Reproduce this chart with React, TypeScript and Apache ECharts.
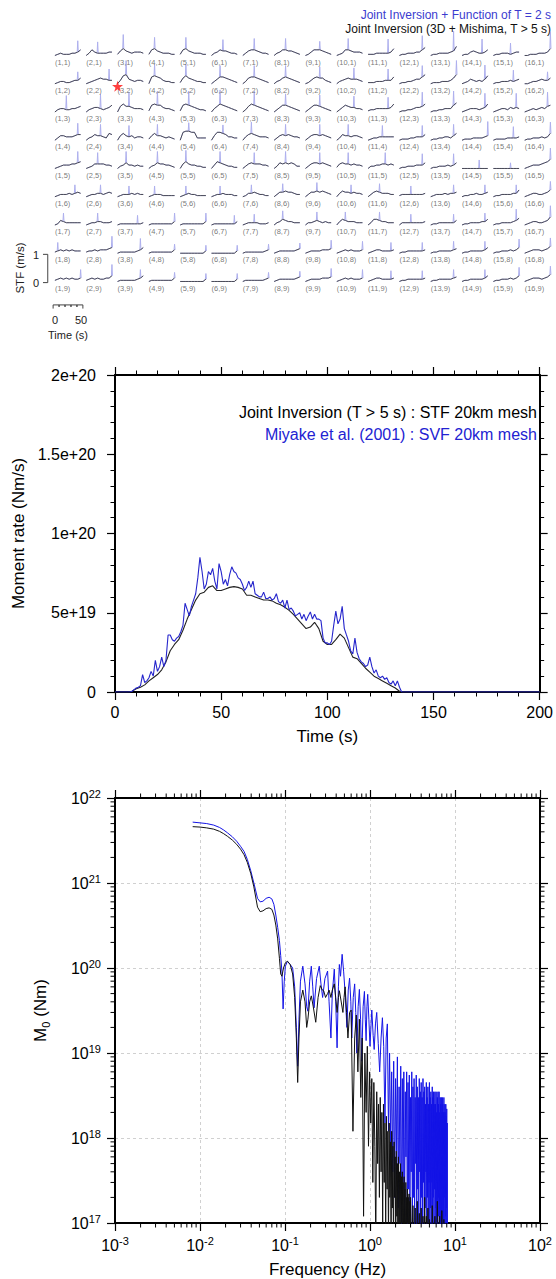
import { useEffect, useRef } from "react";
import * as echarts from "echarts";

const FONT = "'Liberation Sans', Arial, Helvetica, sans-serif";

// ================= Panel 1: subfault source time functions (16 x 9) =================
const COLUMN_COUNT = 16;
const ROW_COUNT = 9;
// black STF shapes, one 10-sample string per subfault (digit = 0.04 m/s)
const stfShapeRows: string[] = [
  "1232223346 1364333344 2575434443 2675433322 2675433322 1346554332 1356654332 1346655432 1246665432 1236654443 2223333347 1223334468 1223333459 1224543346 1223332344 1122233347",
  "1233223446 1234565544 1489543443 1787643322 2686543322 1357765432 1367765432 1346765432 1246766432 1345655543 2223334447 1223345579 1222333469 1235434358 1223334345 1123345446",
  "1344334456 1345543457 1686654443 2787754432 2787654332 1468765432 1368765432 1357765432 1357765432 1357655443 2334444458 1223345568 1223344479 1234443458 1234435454 1234345467",
  "1355444566 1346554376 1575453443 2575543432 1899883333 1588764433 1467654443 1356565443 1356656543 1365545543 1233444444 1222334446 1223344357 1222333345 1222233334 1223334347",
  "1234445567 1235555443 1346443433 1346554432 1575443322 1476543322 1356555443 1365656533 1356656543 2565545443 1334455454 1223334446 1223334346 1111111111 1111111111 1234445679",
  "1233343454 1233443454 1233343433 1233322222 1234332222 1233433322 1244543322 1355655433 1355656543 1465545443 1356544433 2333333334 1233343445 1223343345 1223333447 1234433457",
  "1254333333 1233443334 1222222223 1222222224 1222222224 1222222224 1233332223 1346544333 1334543433 1465444333 1366544333 1333333334 1223333335 1223333446 1223333457 1234433458",
  "2343434333 2334344456 1222222346 1222222224 1111111113 1111111113 1222222234 1233333345 1233334445 1234343334 1234433334 1223333334 1223333345 1223333346 1223334346 1234443457",
  "2343434334 2343433446 1222222346 1222222224 1111111113 1111111113 1222222234 1233333345 1233334445 1234343334 1234433334 1223333334 1223333345 1223333346 1223334346 1234443457",
];
// blue (T = 2 s) spike: sample index and height (digit = 0.1 m/s)
const svfSpikePosRows: string[] = [
  "8422244454788769",
  "8832234456789878",
  "4543334456788888",
  "8543343454588979",
  "8433234454688669",
  "7542233345448889",
  "3479984343448889",
  "1989999999888899",
  "9989999999888899",
];
const svfSpikeAmpRows: string[] = [
  "4454444434557546",
  "3454444444445543",
  "5555555444455555",
  "4444334444444544",
  "4444444444444324",
  "3333333333333333",
  "3333333333333344",
  "3442222233333333",
  "3432222233333333",
];
const hypocenterCell = [3, 2];

// ================= Panel 2: moment rate functions =================
const stfStartTime = 0;
const stfStep = 2; // s
// Joint inversion STF (x 1e19 Nm/s)
const stfMomentRate = [
  0, 0, 0, 0, 0.05, 0.2, 0.3, 0.45, 0.7, 0.9,
  1.1, 1.4, 1.9, 2.6, 3.0, 3.3, 3.9, 4.6, 5.2, 5.8,
  6.2, 6.3, 6.6, 6.7, 6.4, 6.4, 6.5, 6.6, 6.65, 6.6,
  6.5, 6.1, 6.1, 6.0, 5.9, 5.8, 5.8, 5.75, 5.6, 5.5,
  5.35, 5.15, 4.9, 4.6, 4.3, 4.0, 4.1, 4.4, 4.0, 3.2,
  3.0, 3.0, 3.3, 3.65, 3.4, 2.8, 2.2, 2.1, 1.8, 1.5,
  1.25, 1.0, 0.85, 0.7, 0.55, 0.4, 0.25, 0.05, 0,
];
const svfStartTime = 0;
const svfStep = 1; // s
// Miyake et al. (2001) SVF (x 1e19 Nm/s)
const svfMomentRate = [
  0, 0, 0, 0, 0, 0, 0, 0, 0.05, 0.15,
  0.25, 0.3, 0.4, 1.1, 0.6, 0.7, 0.9, 1.3, 1.0, 2.0,
  1.3, 1.6, 2.2, 1.6, 2.0, 3.6, 3.6, 3.3, 3.2, 3.4,
  3.5, 3.8, 4.2, 5.6, 5.2, 4.8, 5.4, 5.8, 6.2, 7.2,
  8.5, 7.6, 6.5, 6.8, 7.6, 7.4, 7.8, 7.0, 6.5, 8.1,
  7.6, 6.8, 7.1, 6.7, 7.4, 7.9, 7.6, 7.5, 7.2, 7.1,
  6.8, 6.4, 6.6, 7.0, 6.6, 7.0, 6.2, 6.1, 6.0, 6.0,
  6.3, 5.9, 5.9, 6.0, 5.8, 5.9, 6.2, 5.7, 5.6, 5.8,
  5.3, 5.8, 5.2, 5.3, 5.1, 4.8, 4.9, 5.0, 4.6, 4.9,
  4.5, 4.8, 5.05, 4.6, 4.9, 4.6, 4.6, 4.5, 3.4, 3.1,
  3.1, 3.0, 3.2, 4.2, 5.1, 4.3, 4.6, 5.4, 4.0, 3.6,
  3.2, 2.6, 2.4, 3.4, 2.5, 2.1, 1.9, 1.8, 1.6, 1.7,
  2.2, 1.6, 1.2, 1.4, 1.0, 0.9, 1.0, 0.8, 0.9, 0.6,
  0.5, 0.7, 0.4, 0.7, 0.3, 0, 0,
];
const recordEnd = 200; // s, both functions are zero after rupture end
const momentRateTicks = ["0", "5e+19", "1e+20", "1.5e+20", "2e+20"];

// ================= Panel 3: moment spectra [frequency Hz, M0 Nm] =================
const spectrumSvf: [number, number][] = [
  [0.0082, 5.2e21], [0.01, 5.1e21], [0.012, 5.0e21], [0.0145, 4.8e21], [0.017, 4.5e21], [0.019, 4.2e21],
  [0.021, 3.9e21], [0.024, 3.5e21], [0.027, 3.1e21], [0.03, 2.7e21], [0.033, 2.35e21], [0.036, 1.9e21],
  [0.0395, 1.4e21], [0.043, 1.0e21], [0.0475, 6.6e20], [0.051, 6.0e20], [0.055, 6.1e20], [0.06, 6.6e20],
  [0.065, 6.8e20], [0.07, 6.5e20], [0.074, 5.6e20], [0.078, 4.2e20], [0.082, 3.0e20], [0.086, 2.1e20],
  [0.089, 1.4e20], [0.092, 9.0e19], [0.095, 3.3e19], [0.098, 7.0e19], [0.101, 1.05e20], [0.107, 1.2e20],
  [0.115, 1.1e20], [0.123, 1.0e20], [0.13, 6.0e19], [0.136, 2.0e19], [0.141, 7.0e18], [0.146, 2.5e19],
  [0.152, 7.0e19], [0.162, 1.05e20], [0.172, 6.5e19], [0.18, 3.5e19], [0.186, 3.1e19], [0.195, 7.0e19],
  [0.204, 1.05e20], [0.212, 6.0e19], [0.22, 3.4e19], [0.235, 7.5e19], [0.253, 1.05e20], [0.265, 6.5e19],
  [0.277, 4.5e19], [0.295, 7.5e19], [0.317, 9.2e19], [0.33, 4.0e19], [0.347, 1.5e19], [0.36, 5.0e19],
  [0.38, 9.7e19], [0.395, 4.0e19], [0.41, 1.15e19], [0.425, 6.0e19], [0.436, 1.1e20], [0.45, 8.0e19],
  [0.47, 1.45e20], [0.49, 9.0e19], [0.51, 5.0e19], [0.535, 2.0e19], [0.555, 5.5e19], [0.575, 7.6e19],
  [0.595, 4.0e19], [0.61, 1.5e19], [0.635, 4.5e19], [0.66, 6.5e19], [0.68, 3.0e19], [0.7, 1.0e19],
  [0.725, 3.5e19], [0.75, 5.6e19], [0.775, 2.5e19], [0.8, 8.0e18], [0.83, 3.5e19], [0.86, 5.3e19],
  [0.88, 2.5e19], [0.9, 1.4e19], [0.92, 3.5e19], [0.94, 4.9e19], [0.97, 2.5e19], [1.0, 1.2e19],
  [1.03, 2.2e19], [1.05, 3.2e19], [1.09, 1.6e19], [1.12, 1.1e19], [1.16, 2.2e19], [1.2, 3.0e19],
  [1.25, 1.3e19], [1.3, 6.0e18], [1.35, 1.5e19], [1.4, 2.6e19], [1.45, 1.2e19], [1.5, 1.5e18],
  [1.55, 1.5e19], [1.6, 2.2e19], [1.65, 1.2e18],
  [1.7, 1.0e19], [1.75, 9e17], [1.8, 6e18], [1.85, 4e17], [1.9, 8e18], [1.95, 2e17], [2.0, 5e18], [2.05, 7e17],
  [2.1, 9e18], [2.15, 1.5e17], [2.2, 4e18], [2.25, 5e17], [2.3, 7e18], [2.35, 8e16], [2.4, 5e18], [2.45, 3e17],
  [2.5, 6e18], [2.55, 1e17], [2.6, 3.5e18], [2.65, 6e17], [2.7, 6e18], [2.75, 5e16], [2.8, 4.5e18], [2.85, 2.5e17],
  [2.9, 5.5e18], [2.95, 1.2e17], [3.0, 3e18], [3.05, 4e17], [3.1, 6e18], [3.15, 6e16], [3.2, 4e18], [3.25, 2e17],
  [3.3, 5e18], [3.35, 9e16], [3.4, 3e18], [3.45, 5e17], [3.5, 5.5e18], [3.55, 7e16], [3.6, 4e18], [3.65, 2.5e17],
  [3.7, 3e18], [3.75, 1e17], [3.8, 5e18], [3.85, 4e17], [3.9, 3.5e18], [3.95, 5e16], [4.0, 4.5e18], [4.05, 2e17],
  [4.1, 3e18], [4.15, 8e16], [4.2, 5e18], [4.25, 3e17], [4.3, 3.5e18], [4.35, 4e16], [4.4, 4e18], [4.45, 1.5e17],
  [4.5, 2.5e18], [4.55, 4e17], [4.6, 4.5e18], [4.65, 6e16], [4.7, 3e18], [4.75, 2e17], [4.8, 4e18], [4.85, 1e17],
  [4.9, 2.5e18], [4.95, 3e17], [5.0, 4.5e18], [5.05, 5e16], [5.1, 3e18], [5.15, 1.5e17], [5.2, 3.5e18], [5.25, 8e16],
  [5.3, 2.5e18], [5.35, 3e17], [5.4, 4e18], [5.45, 4e16], [5.5, 3e18], [5.55, 2e17], [5.6, 3.5e18], [5.65, 1e17],
  [5.7, 2.5e18], [5.75, 2.5e17], [5.8, 3.5e18], [5.85, 5e16], [5.9, 2.5e18], [5.95, 1.5e17], [6.0, 3.5e18], [6.05, 7e16],
  [6.1, 2e18], [6.15, 3e17], [6.2, 3e18], [6.25, 4e16], [6.3, 3.5e18], [6.35, 1.2e17], [6.4, 2.5e18], [6.45, 2e17],
  [6.5, 3.5e18], [6.55, 5e16], [6.6, 2e18], [6.65, 1.5e17], [6.7, 3e18], [6.75, 8e16], [6.8, 2.5e18], [6.85, 2.5e17],
  [6.9, 3e18], [6.95, 4e16], [7.0, 2e18], [7.05, 1.2e17], [7.1, 3e18], [7.15, 6e16], [7.2, 2.5e18], [7.25, 2e17],
  [7.3, 2e18], [7.35, 5e16], [7.4, 3e18], [7.45, 1e17], [7.5, 2e18], [7.55, 2e17], [7.6, 2.5e18], [7.65, 4e16],
  [7.7, 2e18], [7.75, 1.2e17], [7.8, 2.5e18], [7.85, 6e16], [7.9, 1.8e18], [7.95, 1.5e17], [8.0, 2.2e18], [8.05, 4e16],
  [8.1, 1.5e18], [8.15, 1e16],
];
const spectrumStf: [number, number][] = [
  [0.0082, 4.6e21], [0.01, 4.55e21], [0.012, 4.45e21], [0.0145, 4.3e21], [0.017, 4.05e21], [0.019, 3.8e21],
  [0.021, 3.55e21], [0.024, 3.2e21], [0.027, 2.85e21], [0.03, 2.5e21], [0.033, 2.15e21], [0.036, 1.75e21],
  [0.0395, 1.3e21], [0.043, 9.0e20], [0.0475, 5.2e20], [0.051, 4.6e20], [0.055, 4.7e20], [0.06, 5.0e20],
  [0.065, 5.1e20], [0.07, 4.9e20], [0.074, 4.2e20], [0.078, 3.2e20], [0.082, 2.2e20], [0.086, 1.3e20],
  [0.089, 8.5e19], [0.092, 8.0e19], [0.096, 1.0e20], [0.101, 1.15e20], [0.107, 1.2e20], [0.115, 1.1e20],
  [0.123, 8.5e19], [0.13, 4.5e19], [0.136, 1.5e19], [0.141, 4.5e18], [0.146, 1.5e19], [0.152, 4.0e19],
  [0.162, 5.5e19], [0.172, 4.0e19], [0.18, 2.0e19], [0.186, 2.5e19], [0.195, 4.0e19], [0.204, 4.7e19],
  [0.215, 3.5e19], [0.23, 2.3e19], [0.245, 4.5e19], [0.26, 6.2e19], [0.275, 5.5e19], [0.285, 5.4e19],
  [0.3, 4.5e19], [0.317, 5.0e19], [0.33, 5.5e19], [0.347, 4.5e19], [0.36, 5.5e19], [0.38, 6.5e19],
  [0.395, 4.5e19], [0.41, 3.0e19], [0.425, 4.5e19], [0.436, 5.4e19], [0.455, 4.2e19], [0.48, 3.0e19],
  [0.495, 4.5e19], [0.51, 6.0e19], [0.53, 3.0e19], [0.55, 1.5e19], [0.575, 3.0e19],
  [0.6, 3.2e19], [0.63, 1.2e18], [0.66, 1.5e19], [0.69, 2.8e19], [0.72, 6e18], [0.75, 2.5e19], [0.78, 3e18], [0.81, 1.5e19],
  [0.84, 1.2e17], [0.87, 1.0e19], [0.9, 2.0e18], [0.93, 1.2e19], [0.96, 8e17], [0.99, 6e18], [1.02, 1.5e18], [1.05, 5e18],
  [1.08, 3e17], [1.11, 4.5e18], [1.14, 8e17], [1.17, 6e16], [1.2, 3.5e18], [1.23, 5e17], [1.26, 2.5e18], [1.29, 2e17],
  [1.32, 3e18], [1.35, 4e17], [1.38, 2e18], [1.41, 1e17], [1.44, 2.5e18], [1.47, 3e17], [1.5, 1.5e18], [1.53, 8e16],
  [1.56, 1.8e18], [1.59, 2.5e17], [1.62, 1.2e18], [1.65, 6e16], [1.68, 1.5e18], [1.71, 2e17], [1.74, 9e17], [1.77, 5e16],
  [1.8, 1.2e18], [1.83, 1.5e17], [1.86, 8e17], [1.89, 4e16], [1.92, 9e17], [1.95, 2e17], [1.98, 6e17], [2.01, 5e16],
  [2.04, 7e17], [2.07, 1.2e17], [2.1, 5e17], [2.13, 3e16], [2.16, 6e17], [2.19, 1e17], [2.22, 4e17], [2.25, 4e16],
  [2.28, 5e17], [2.31, 8e16], [2.34, 3.5e17], [2.37, 3e16], [2.4, 4e17], [2.43, 1e17], [2.46, 3e17], [2.49, 4e16],
  [2.52, 3.5e17], [2.55, 7e16], [2.58, 2.5e17], [2.61, 3e16], [2.64, 3e17], [2.67, 8e16], [2.7, 2e17], [2.73, 3e16],
  [2.76, 2.5e17], [2.79, 6e16], [2.82, 2e17], [2.85, 2e16], [2.88, 2.2e17], [2.91, 5e16], [2.94, 1.8e17], [2.97, 2e16],
  [3.0, 2e17], [3.1, 4e16], [3.2, 1.6e17], [3.3, 3e16], [3.4, 1.5e17], [3.5, 2e16], [3.6, 1.8e17], [3.7, 3e16],
  [3.8, 1.3e17], [3.9, 2e16], [4.0, 1.5e17], [4.1, 3e16], [4.2, 1.2e17], [4.3, 2e16], [4.4, 2e17], [4.5, 3e16],
  [4.6, 1.2e17], [4.7, 2e16], [4.8, 1.5e17], [4.9, 3e16], [5.0, 1.1e17], [5.2, 2e16], [5.4, 1.6e17], [5.6, 3e16],
  [5.8, 1.2e17], [6.0, 2e16], [6.2, 1.8e17], [6.4, 3e16], [6.6, 1.2e17], [6.8, 2e16], [7.0, 1.4e17], [7.2, 3e16],
  [7.4, 1.1e17], [7.6, 2e16], [7.8, 1.0e17], [8.0, 2e16], [8.1, 1e16],
];

// ================= layout / style constants =================
const COL_STEP = 52.6; // s between subfault columns
const SAMPLE_DT = 4.8; // s between STF samples
const STF_UNIT = 0.04; // m/s per digit
const SVF_UNIT = 0.1; // m/s per digit
const PX_PER_S = 0.6;
const PX_PER_MS = 28.25;
const X0_MIN = -22;
const X0_MAX = COLUMN_COUNT * COL_STEP;
const Y0_MIN = -1.2;
const Y0_MAX = 9;
const ROW9_BASE_PX = 282.6;
const FIRST_COL_PX = 55;

const SPEC_XMIN = 1e-3, SPEC_XMAX = 1e2, SPEC_YMIN = 1e17, SPEC_YMAX = 1e22;
const BLUE = "#2626cc";

function buildOption() {
  const series: any[] = [];

  // ----- panel 1 -----
  const labelData: any[] = [];
  for (let r = 0; r < ROW_COUNT; r++) {
    const shapes = stfShapeRows[r].split(" ");
    const base = ROW_COUNT - 1 - r;
    for (let c = 0; c < COLUMN_COUNT; c++) {
      const x0 = c * COL_STEP;
      const samples = shapes[c].split("").map(Number);
      const black = samples.map((d, k) => [x0 + k * SAMPLE_DT, base + d * STF_UNIT]);
      const p = Number(svfSpikePosRows[r][c]);
      const amp = Number(svfSpikeAmpRows[r][c]) * SVF_UNIT;
      const blue: number[][] = [];
      samples.forEach((d, k) => {
        const t = x0 + k * SAMPLE_DT;
        const y = base + d * STF_UNIT;
        if (k === p) {
          blue.push([t - 0.9, y], [t, y + amp], [t + 0.9, y]);
        } else blue.push([t, y]);
      });
      series.push({
        type: "line", xAxisIndex: 0, yAxisIndex: 0, data: blue, symbol: "none", silent: true, z: 2,
        lineStyle: { color: "#aeb0ee", width: 1 },
      });
      series.push({
        type: "line", xAxisIndex: 0, yAxisIndex: 0, data: black, symbol: "none", silent: true, z: 3,
        lineStyle: { color: "#2e2e2e", width: 0.8 },
      });
      labelData.push({ value: [x0, base], name: `(${c + 1},${r + 1})` });
    }
  }
  series.push({
    type: "scatter", xAxisIndex: 0, yAxisIndex: 0, data: labelData, symbolSize: 0, silent: true, z: 4,
    label: {
      show: true, formatter: "{b}", position: "bottom", distance: 1.5, align: "left",
      fontSize: 7.5, color: "#555", fontFamily: FONT,
    },
  });
  series.push({
    type: "scatter", xAxisIndex: 0, yAxisIndex: 0, silent: true, z: 6,
    data: [[(hypocenterCell[0] - 1) * COL_STEP, ROW_COUNT - hypocenterCell[1] - 0.05]],
    symbol: "path://M50,0 L61,35 L98,35 L68,57 L79,91 L50,70 L21,91 L32,57 L2,35 L39,35 Z",
    symbolSize: 11, itemStyle: { color: "#ff1010" },
  });
  // amplitude scale bar (1 m/s) and time scale bar (50 s)
  series.push({
    type: "line", xAxisIndex: 0, yAxisIndex: 0, symbol: "none", silent: true,
    data: [[-20, 1], [-12, 1], [-12, 0], [-20, 0]],
    lineStyle: { color: "#444", width: 1 },
  });
  const ruler: number[][] = [[-3, -0.92], [-3, -0.79]];
  [7, 17, 27, 37].forEach((t) => ruler.push([t, -0.79], [t, -0.86], [t, -0.79]));
  ruler.push([47, -0.79], [47, -0.92]);
  series.push({
    type: "line", xAxisIndex: 0, yAxisIndex: 0, symbol: "none", silent: true, data: ruler,
    lineStyle: { color: "#444", width: 1 },
  });

  // ----- panel 2 -----
  const stfData = stfMomentRate.map((v, i) => [stfStartTime + i * stfStep, v * 1e19]);
  stfData.push([recordEnd, 0]);
  const svfData = svfMomentRate.map((v, i) => [svfStartTime + i * svfStep, v * 1e19]);
  svfData.push([recordEnd, 0]);
  series.push({
    type: "line", xAxisIndex: 1, yAxisIndex: 1, data: stfData, symbol: "none", silent: true, z: 3,
    lineStyle: { color: "#222", width: 1.1 },
  });
  series.push({
    type: "line", xAxisIndex: 1, yAxisIndex: 1, data: svfData, symbol: "none", silent: true, z: 4,
    lineStyle: { color: BLUE, width: 1.1 },
  });

  // ----- panel 3 -----
  series.push({
    type: "line", xAxisIndex: 3, yAxisIndex: 3, data: spectrumSvf, symbol: "none", silent: true, z: 3,
    lineStyle: { color: "#1414e6", width: 1 },
  });
  series.push({
    type: "line", xAxisIndex: 3, yAxisIndex: 3, data: spectrumStf, symbol: "none", silent: true, z: 4,
    lineStyle: { color: "#111", width: 1 },
  });
  const minorX: number[] = [];
  for (let d = -3; d <= 1; d++) for (let m = 2; m <= 9; m++) minorX.push(m * Math.pow(10, d));
  const minorY: number[] = [];
  for (let d = 17; d <= 21; d++) for (let m = 2; m <= 9; m++) minorY.push(m * Math.pow(10, d));
  const tickStyle = { stroke: "#000", lineWidth: 1 };
  series.push({
    type: "custom", xAxisIndex: 3, yAxisIndex: 3, silent: true, z: 6,
    data: minorX.map((v) => [v, SPEC_YMIN]),
    renderItem: (_p: any, api: any) => {
      const v = api.value(0);
      const b = api.coord([v, SPEC_YMIN]);
      const t = api.coord([v, SPEC_YMAX]);
      return {
        type: "group",
        children: [
          { type: "line", shape: { x1: b[0], y1: b[1], x2: b[0], y2: b[1] + 4.5 }, style: tickStyle },
          { type: "line", shape: { x1: t[0], y1: t[1], x2: t[0], y2: t[1] - 4.5 }, style: tickStyle },
        ],
      };
    },
  });
  series.push({
    type: "custom", xAxisIndex: 3, yAxisIndex: 3, silent: true, z: 6,
    data: minorY.map((v) => [SPEC_XMIN, v]),
    renderItem: (_p: any, api: any) => {
      const v = api.value(1);
      const l = api.coord([SPEC_XMIN, v]);
      const r = api.coord([SPEC_XMAX, v]);
      return {
        type: "group",
        children: [
          { type: "line", shape: { x1: l[0], y1: l[1], x2: l[0] - 4.5, y2: l[1] }, style: tickStyle },
          { type: "line", shape: { x1: r[0], y1: r[1], x2: r[0] + 4.5, y2: r[1] }, style: tickStyle },
        ],
      };
    },
  });

  const frameLine = { show: true, onZero: false, lineStyle: { color: "#000", width: 2 } };
  const majorTick = { show: true, length: 8, lineStyle: { color: "#000", width: 1.2 } };
  const linMinor = { show: true, splitNumber: 5, length: 4.5, lineStyle: { color: "#000", width: 1 } };
  const pow10 = (v: number) => `{b|10}{s|${Math.round(Math.log10(v))}}`;
  const powRich = {
    b: { fontSize: 16, lineHeight: 20, fontFamily: FONT, color: "#000" },
    s: { fontSize: 11, lineHeight: 11, verticalAlign: "top", fontFamily: FONT, color: "#000" },
  };
  const gridDash = { show: true, lineStyle: { color: "#c4c4c4", width: 0.8, type: [3, 3] } };
  const labelFont = { fontSize: 16, color: "#000", fontFamily: FONT };
  const nameFont = { fontSize: 17, color: "#000", fontFamily: FONT };

  const xAxis: any[] = [
    { gridIndex: 0, type: "value", min: X0_MIN, max: X0_MAX, show: false },
    {
      gridIndex: 1, type: "value", min: 0, max: 200, interval: 50, position: "bottom",
      axisLine: frameLine, axisTick: majorTick, minorTick: linMinor, splitLine: { show: false },
      axisLabel: { ...labelFont, margin: 12 },
      name: "Time (s)", nameLocation: "middle", nameGap: 36, nameTextStyle: nameFont,
    },
    {
      gridIndex: 1, type: "value", min: 0, max: 200, interval: 50, position: "top",
      axisLine: frameLine, axisTick: majorTick, minorTick: linMinor, splitLine: { show: false },
      axisLabel: { show: false },
    },
    {
      gridIndex: 2, type: "log", logBase: 10, min: SPEC_XMIN, max: SPEC_XMAX, position: "bottom",
      axisLine: frameLine, axisTick: majorTick, minorTick: { show: false }, splitLine: gridDash,
      axisLabel: { formatter: pow10, rich: powRich, margin: 12 },
      name: "Frequency (Hz)", nameLocation: "middle", nameGap: 38, nameTextStyle: nameFont,
    },
    {
      gridIndex: 2, type: "log", logBase: 10, min: SPEC_XMIN, max: SPEC_XMAX, position: "top",
      axisLine: frameLine, axisTick: majorTick, minorTick: { show: false }, splitLine: { show: false },
      axisLabel: { show: false },
    },
  ];
  const yAxis: any[] = [
    { gridIndex: 0, type: "value", min: Y0_MIN, max: Y0_MAX, show: false },
    {
      gridIndex: 1, type: "value", min: 0, max: 2e20, interval: 5e19, position: "left",
      axisLine: frameLine, axisTick: majorTick, minorTick: linMinor, splitLine: { show: false },
      axisLabel: {
        ...labelFont, margin: 19,
        formatter: (v: number) => momentRateTicks[Math.round(v / 5e19)] ?? "",
      },
      name: "Moment rate (Nm/s)", nameLocation: "middle", nameGap: 84, nameTextStyle: nameFont,
    },
    {
      gridIndex: 1, type: "value", min: 0, max: 2e20, interval: 5e19, position: "right",
      axisLine: frameLine, axisTick: majorTick, minorTick: linMinor, splitLine: { show: false },
      axisLabel: { show: false },
    },
    {
      gridIndex: 2, type: "log", logBase: 10, min: SPEC_YMIN, max: SPEC_YMAX, position: "left",
      axisLine: frameLine, axisTick: majorTick, minorTick: { show: false }, splitLine: gridDash,
      axisLabel: { formatter: pow10, rich: powRich, margin: 14 },
      name: "{a|M}{u|0}{a| (Nm)}", nameLocation: "middle", nameGap: 64,
      nameTextStyle: {
        ...nameFont,
        rich: {
          a: { fontSize: 17, lineHeight: 22, fontFamily: FONT, color: "#000" },
          u: { fontSize: 11, lineHeight: 11, verticalAlign: "bottom", fontFamily: FONT, color: "#000" },
        },
      },
    },
    {
      gridIndex: 2, type: "log", logBase: 10, min: SPEC_YMIN, max: SPEC_YMAX, position: "right",
      axisLine: frameLine, axisTick: majorTick, minorTick: { show: false }, splitLine: { show: false },
      axisLabel: { show: false },
    },
  ];

  const txt = (x: number, y: number, text: string, o: any = {}) => ({
    type: "text", x, y, silent: true, rotation: o.rotation ?? 0,
    style: {
      text, fill: o.fill ?? "#000", fontSize: o.fontSize ?? 11, fontFamily: FONT,
      align: o.align ?? "center", verticalAlign: "middle",
    },
  });

  const graphic = [
    txt(551, 15, "Joint Inversion + Function of T = 2 s", { align: "right", fontSize: 12, fill: "#3b3bcf" }),
    txt(551, 28.5, "Joint Inversion (3D + Mishima, T > 5 s)", { align: "right", fontSize: 12, fill: "#111" }),
    txt(20, 268, "STF (m/s)", { rotation: Math.PI / 2, fontSize: 11.5, fill: "#222" }),
    txt(36, 254.5, "1", { fontSize: 11, fill: "#222" }),
    txt(36, 283, "0", { fontSize: 11, fill: "#222" }),
    txt(55, 319.5, "0", { fontSize: 11, fill: "#222" }),
    txt(81, 319.5, "50", { fontSize: 11, fill: "#222" }),
    txt(68, 335, "Time (s)", { fontSize: 11, fill: "#222" }),
    txt(537, 412, "Joint Inversion (T > 5 s) : STF 20km mesh", { align: "right", fontSize: 16, fill: "#000" }),
    txt(537, 434, "Miyake et al. (2001) : SVF 20km mesh", { align: "right", fontSize: 16, fill: "#2222d2" }),
  ];

  const topGridTop = ROW9_BASE_PX - Y0_MAX * PX_PER_MS;
  return {
    animation: false,
    backgroundColor: "#fff",
    textStyle: { fontFamily: FONT },
    grid: [
      {
        left: FIRST_COL_PX + X0_MIN * PX_PER_S, top: topGridTop,
        width: (X0_MAX - X0_MIN) * PX_PER_S, height: (Y0_MAX - Y0_MIN) * PX_PER_MS,
      },
      { left: 115, top: 375, width: 425, height: 317 },
      { left: 115, top: 798, width: 425, height: 425 },
    ],
    xAxis,
    yAxis,
    series,
    graphic,
  };
}

export default function App() {
  const ref = useRef<HTMLDivElement>(null);
  useEffect(() => {
    const chart = echarts.init(ref.current!, null, { renderer: "svg" });
    chart.setOption(buildOption() as any);
    return () => chart.dispose();
  }, []);
  return (
    <div
      ref={ref}
      style={{ position: "absolute", left: 0, top: 0, width: 556, height: 1279, background: "#fff" }}
    />
  );
}
